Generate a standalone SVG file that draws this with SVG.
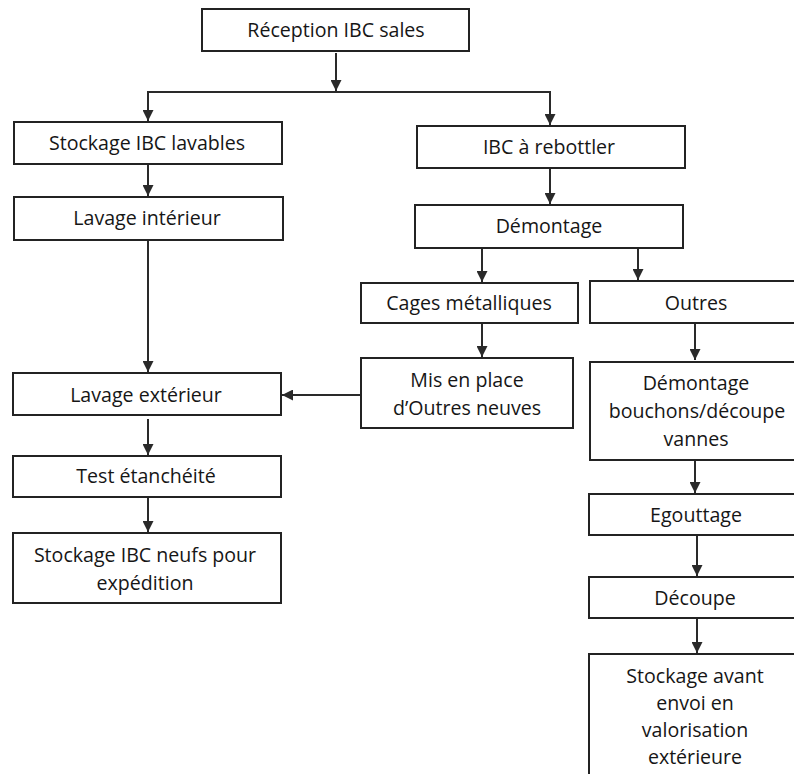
<svg xmlns="http://www.w3.org/2000/svg" width="794" height="774" viewBox="0 0 794 774">
<defs>
<style>
.box{fill:#fff;stroke:#232323;stroke-width:2}
.t{font-family:"Open Sans","Liberation Sans",sans-serif;font-size:19.6px;fill:#161616;text-anchor:middle}
.c{fill:none;stroke:#2a2a2a;stroke-width:2}
</style>
<marker id="ah" markerWidth="11" markerHeight="11" refX="11" refY="5.5" orient="auto" markerUnits="userSpaceOnUse">
<path d="M0,0 L11,5.5 L0,11 z" fill="#2a2a2a"/>
</marker>
</defs>
<rect width="794" height="774" fill="#fff"/>
<g id="connectors">
<path class="c" d="M336,53 V91" marker-end="url(#ah)"/>
<path class="c" d="M148,121 V92 H550 V125"/>
<path class="c" d="M148,110 V121" marker-end="url(#ah)"/>
<path class="c" d="M550,114 V125" marker-end="url(#ah)"/>
<path class="c" d="M148,165 V196" marker-end="url(#ah)"/>
<path class="c" d="M148,241 V372" marker-end="url(#ah)"/>
<path class="c" d="M148,419 V455" marker-end="url(#ah)"/>
<path class="c" d="M148,498 V532" marker-end="url(#ah)"/>
<path class="c" d="M550,169 V204" marker-end="url(#ah)"/>
<path class="c" d="M482,249 V282" marker-end="url(#ah)"/>
<path class="c" d="M638,249 V280" marker-end="url(#ah)"/>
<path class="c" d="M482,324 V357" marker-end="url(#ah)"/>
<path class="c" d="M361,395 H282" marker-end="url(#ah)"/>
<path class="c" d="M695,324 V360" marker-end="url(#ah)"/>
<path class="c" d="M695,461 V493" marker-end="url(#ah)"/>
<path class="c" d="M697,536 V576" marker-end="url(#ah)"/>
<path class="c" d="M697,619 V653" marker-end="url(#ah)"/>
</g>
<g id="n-reception"><rect class="box" x="202" y="9" width="267" height="42"/><text class="t" x="336" y="37">Réception IBC sales</text></g>
<g id="n-stockage-lavables"><rect class="box" x="14" y="122" width="268" height="42"/><text class="t" x="147" y="150">Stockage IBC lavables</text></g>
<g id="n-lavage-int"><rect class="box" x="14" y="197" width="269" height="43"/><text class="t" x="147" y="225">Lavage intérieur</text></g>
<g id="n-lavage-ext"><rect class="box" x="13" y="373" width="268" height="42"/><text class="t" x="146" y="402">Lavage extérieur</text></g>
<g id="n-test"><rect class="box" x="13" y="456" width="268" height="41"/><text class="t" x="146" y="483">Test étanchéité</text></g>
<g id="n-stockage-neufs"><rect class="box" x="13" y="533" width="268" height="70"/><text class="t" x="145" y="562">Stockage IBC neufs pour</text><text class="t" x="145" y="590">expédition</text></g>
<g id="n-rebottler"><rect class="box" x="417" y="126" width="268" height="42"/><text class="t" x="549" y="154">IBC à rebottler</text></g>
<g id="n-demontage"><rect class="box" x="415" y="205" width="268" height="43"/><text class="t" x="549" y="233">Démontage</text></g>
<g id="n-cages"><rect class="box" x="361" y="283" width="217" height="40"/><text class="t" x="469" y="310">Cages métalliques</text></g>
<g id="n-mis"><rect class="box" x="361" y="358" width="212" height="70"/><text class="t" x="467" y="387">Mis en place</text><text class="t" x="467" y="415">d’Outres neuves</text></g>
<g id="n-outres"><rect class="box" x="590" y="281" width="220" height="42"/><text class="t" x="696" y="310">Outres</text></g>
<g id="n-demontage-bouchons"><rect class="box" x="590" y="362" width="220" height="98"/><text class="t" x="696" y="390">Démontage</text><text class="t" x="697" y="418">bouchons/découpe</text><text class="t" x="696" y="446">vannes</text></g>
<g id="n-egouttage"><rect class="box" x="589" y="494" width="220" height="41"/><text class="t" x="696" y="522">Egouttage</text></g>
<g id="n-decoupe"><rect class="box" x="589" y="577" width="220" height="41"/><text class="t" x="695" y="605">Découpe</text></g>
<g id="n-stockage-avant"><rect class="box" x="589" y="654" width="220" height="140"/><text class="t" x="695" y="683">Stockage avant</text><text class="t" x="695" y="710">envoi en</text><text class="t" x="695" y="737">valorisation</text><text class="t" x="695" y="764">extérieure</text></g>
</svg>
